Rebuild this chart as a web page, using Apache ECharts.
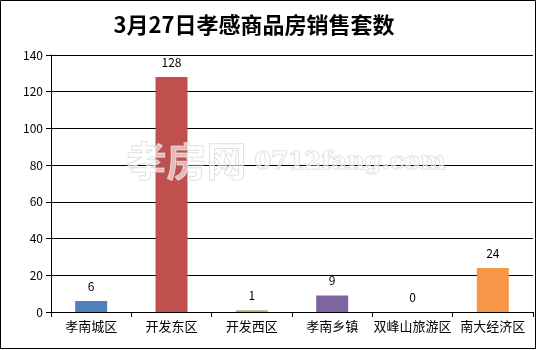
<!DOCTYPE html>
<html><head><meta charset="utf-8">
<script src="https://cdn.jsdelivr.net/npm/echarts@6/dist/echarts.min.js"></script>
<style>html,body{margin:0;padding:0;background:#fff}#c{width:538px;height:350px}</style>
</head><body><div id="c"></div>
<script>
var titleText = '3月27日孝感商品房销售套数';
var categories = ['孝南城区','开发东区','开发西区','孝南乡镇','双峰山旅游区','南大经济区'];
var values = [6, 128, 1, 9, 0, 24];
var colors = ['#4F81BD','#C0504D','#9BBB59','#8064A2','#4BACC6','#F79646'];
var yTicks = [0,20,40,60,80,100,120,140];

var chart = echarts.init(document.getElementById('c'), null, {renderer:'canvas'});
var FONT = 'SimSun, "Noto Sans CJK SC", sans-serif';
chart.setOption({
  animation: false,
  backgroundColor: '#fff',
  title: {
    text: titleText, left: 249, top: 9, textAlign: 'center',
    textStyle: {fontSize: 22, fontWeight: 'bold', color: '#000', fontFamily: '"Noto Sans CJK SC", sans-serif'}
  },
  grid: {left: 51, right: 5, top: 55, bottom: 38, containLabel: false},
  xAxis: {
    type: 'category', data: categories,
    axisLine: {lineStyle: {color: '#000', width: 1}},
    axisTick: {show: true, length: 5, interval: 0, lineStyle: {color: '#000'}},
    axisLabel: {color: '#000', fontSize: 13, margin: 8, interval: 0, fontFamily: FONT}
  },
  yAxis: {
    type: 'value', min: yTicks[0], max: yTicks[yTicks.length-1], interval: 20,
    axisLine: {show: true, lineStyle: {color: '#000'}},
    axisTick: {show: true, length: 5, lineStyle: {color: '#000'}},
    axisLabel: {color: '#000', fontSize: 12, margin: 8, fontFamily: FONT},
    splitLine: {show: true, lineStyle: {color: '#000', width: 1}}
  },
  series: [{
    type: 'bar', barWidth: 32,
    data: values.map(function(v,i){return {value:v, itemStyle:{color:colors[i]}};}),
    label: {show: true, position: 'top', distance: 9, color: '#000', fontSize: 12, fontFamily: FONT}
  }],
  graphic: [
    {type: 'rect', shape: {x: 0.5, y: 0.5, width: 535, height: 348}, style: {fill: 'none', stroke: '#000', lineWidth: 1}, z: 100, silent: true},
    {type: 'text', left: 126, top: 140, style: {text: '孝房网', font: 'bold 40px "Noto Sans CJK SC"', fill: 'rgba(255,255,255,0.6)', stroke: 'rgba(205,205,205,0.85)', lineWidth: 1}, z: 90, silent: true},
    {type: 'text', left: 254, top: 150, style: {text: '0712fang.com', font: 'bold 24px "DejaVu Serif"', fill: 'rgba(255,255,255,0.6)', stroke: 'rgba(205,205,205,0.85)', lineWidth: 1}, z: 90, silent: true}
  ]
});
</script></body></html>
